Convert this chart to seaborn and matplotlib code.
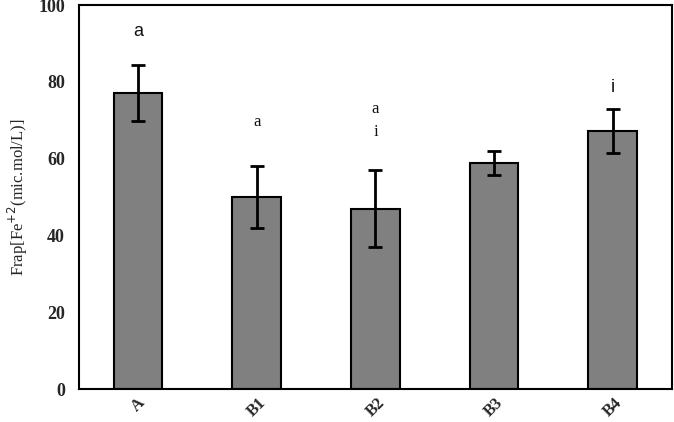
import matplotlib
matplotlib.use("Agg")
import matplotlib.pyplot as plt
import seaborn as sns
import pandas as pd

# data
groups = ["A", "B1", "B2", "B3", "B4"]
frap_mean = [77.1, 50.0, 47.0, 58.9, 67.2]
frap_err = [7.2, 8.0, 10.0, 3.2, 5.7]

# letter annotations: (group index, y, text, sans)
letters = [
    (0, 93.0, "a", True),
    (1, 69.5, "a", False),
    (2, 73.0, "a", False),
    (2, 67.0, "i", False),
    (4, 78.5, "i", True),
]

df = pd.DataFrame({"Group": groups, "Frap": frap_mean})

sns.set_style("white")
plt.rcParams["font.family"] = ["Liberation Serif", "DejaVu Serif"]

fig = plt.figure(figsize=(6.74, 4.22), dpi=100)
ax = fig.add_axes([0.117, 0.078, 0.880, 0.910])

sns.barplot(data=df, x="Group", y="Frap", color="#808080", saturation=1,
            edgecolor="black", linewidth=1.5, width=0.41, errorbar=None, ax=ax)
ax.errorbar(range(len(groups)), frap_mean, yerr=frap_err, fmt="none",
            ecolor="black", elinewidth=2, capsize=5, capthick=2)

for i, y, txt, sans in letters:
    if sans:
        ax.text(i, y, txt, ha="center", va="center", fontsize=13,
                family=["Liberation Sans", "DejaVu Sans"], color="#111111")
    else:
        ax.text(i, y, txt, ha="center", va="center", fontsize=12, color="#111111")

ax.set_ylim(0, 100)
ax.set_yticks([0, 20, 40, 60, 80, 100])
ax.set_xlim(-0.5, 4.5)
ax.set_xlabel("")
ax.set_ylabel("Frap[Fe$^{+2}$(mic.mol/L)]", fontsize=12, labelpad=6)
ax.tick_params(axis="y", direction="out", length=4, width=1, labelsize=13, pad=6)
ax.tick_params(axis="x", length=0, labelsize=12, pad=4)
for lab in ax.get_yticklabels() + ax.get_xticklabels():
    lab.set_fontweight("bold")
for lab in ax.get_xticklabels():
    lab.set_rotation(45)
for s in ax.spines.values():
    s.set_visible(True)
    s.set_color("black")
    s.set_linewidth(1.5)

fig.savefig("out.png", dpi=100)
